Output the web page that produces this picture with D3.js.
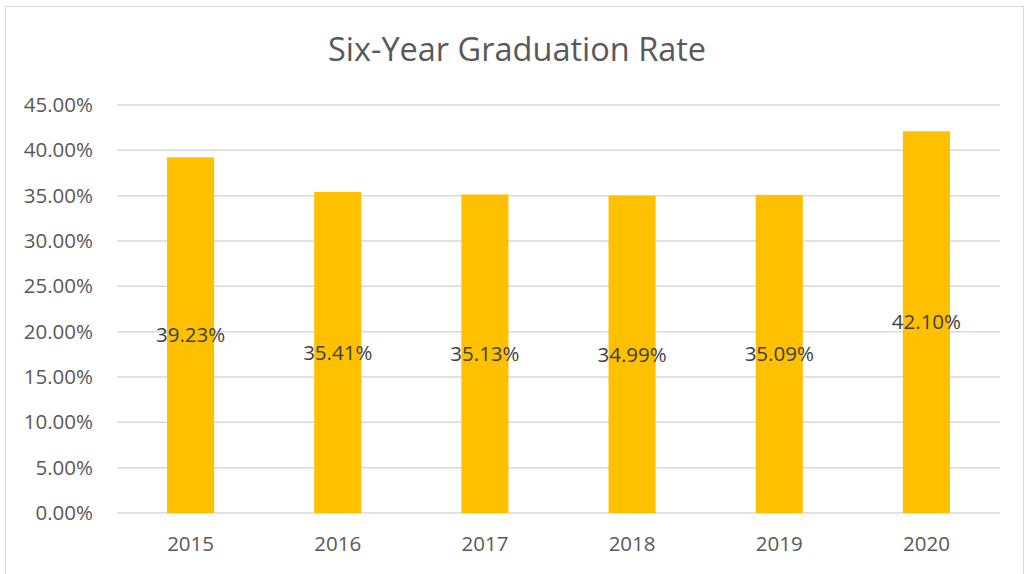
<!DOCTYPE html>
<html>
<head>
<meta charset="utf-8">
<script src="https://cdn.jsdelivr.net/npm/d3@7"></script>
<style>
    body { margin: 0; background: #fff; }
    text { font-family: "Open Sans", sans-serif; }
</style>
</head>
<body>
<div id="chart"></div>
<script>
// data
const years = ["2015", "2016", "2017", "2018", "2019", "2020"];
const rates = [0.3923, 0.3541, 0.3513, 0.3499, 0.3509, 0.4210];
const yTicks = [0, 0.05, 0.10, 0.15, 0.20, 0.25, 0.30, 0.35, 0.40, 0.45];

const W = 1030, H = 574;
const margin = {top: 105, right: 30, bottom: 61, left: 117};

const svg = d3.select("#chart").append("svg")
    .attr("width", W)
    .attr("height", H);

// chart border
svg.append("rect")
    .attr("x", 5.5).attr("y", 6.5)
    .attr("width", 1018).attr("height", 580)
    .attr("fill", "white")
    .attr("stroke", "#d9d9d9")
    .attr("stroke-width", 1);

const x = d3.scaleBand()
    .domain(years)
    .range([margin.left, W - margin.right])
    .paddingInner(0.68)
    .paddingOuter(0.34);

const y = d3.scaleLinear()
    .domain([0, 0.45])
    .range([H - margin.bottom, margin.top]);

// gridlines
svg.append("g")
    .selectAll("line")
    .data(yTicks)
    .enter().append("line")
    .attr("x1", margin.left)
    .attr("x2", W - margin.right)
    .attr("y1", d => y(d))
    .attr("y2", d => y(d))
    .attr("stroke", "#d9d9d9")
    .attr("stroke-width", 1.5);

// y axis labels
const yAxis = d3.axisLeft(y)
    .tickValues(yTicks)
    .tickFormat(d => (d * 100).toFixed(2) + "%")
    .tickSize(0)
    .tickPadding(24);

svg.append("g")
    .attr("transform", `translate(${margin.left},0)`)
    .call(yAxis)
    .call(g => g.select(".domain").remove())
    .selectAll("text")
    .attr("fill", "#595959")
    .style("font-size", "20.5px");

// x axis labels
const xAxis = d3.axisBottom(x).tickSize(0).tickPadding(23);

svg.append("g")
    .attr("transform", `translate(0,${H - margin.bottom})`)
    .call(xAxis)
    .call(g => g.select(".domain").remove())
    .selectAll("text")
    .attr("fill", "#595959")
    .style("font-size", "20.5px");

// bars
svg.append("g")
    .selectAll("rect")
    .data(rates)
    .enter().append("rect")
    .attr("x", (d, i) => x(years[i]))
    .attr("y", d => y(d))
    .attr("width", x.bandwidth())
    .attr("height", d => y(0) - y(d))
    .attr("fill", "#ffc000");

// data labels
svg.append("g")
    .selectAll("text")
    .data(rates)
    .enter().append("text")
    .attr("x", (d, i) => x(years[i]) + x.bandwidth() / 2)
    .attr("y", d => (y(d) + y(0)) / 2)
    .attr("dy", "0.35em")
    .attr("text-anchor", "middle")
    .attr("fill", "#404040")
    .style("font-size", "20.5px")
    .text(d => (d * 100).toFixed(2) + "%");

// title
svg.append("text")
    .attr("x", 517)
    .attr("y", 61)
    .attr("text-anchor", "middle")
    .attr("fill", "#595959")
    .style("font-size", "32.5px")
    .text("Six-Year Graduation Rate");
</script>
</body>
</html>
